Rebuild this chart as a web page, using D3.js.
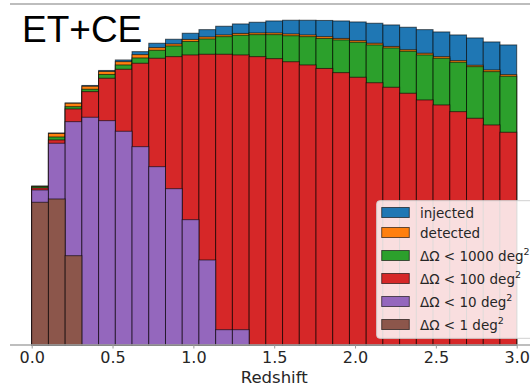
<!DOCTYPE html>
<html>
<head>
<meta charset="utf-8">
<script src="https://cdn.jsdelivr.net/npm/d3@7"></script>
<style>
	body { margin: 0; background: #fff; }
	svg { display: block; }
	.tick text { font-family: "DejaVu Sans", sans-serif; font-size: 16px; fill: #262626; }
	.tick line { stroke: #9a9a9a; }
</style>
</head>
<body>
<svg id="chart"></svg>
<script>
// bins: 29 redshift bins between 0 and 3
var zMin = 0, zMax = 3, nBins = 29;
var binEdges = d3.range(nBins + 1).map(function (i) { return zMin + i * (zMax - zMin) / nBins; });

var tickValues = [0, 0.5, 1.0, 1.5, 2.0, 2.5, 3.0];

// counts per bin (arbitrary units)
var injected = [159, 212, 242, 259.5, 274.5, 285, 293.3, 301.7, 305.7, 311.7, 315.3, 318.7, 321, 322.7, 324,
	324.7, 324.7, 324.5, 324, 323, 321.7, 320, 317.7, 315.3, 313, 310, 307, 303, 300];
var detected = [158.6, 211.5, 241.7, 258.7, 273.5, 283.3, 290.3, 297.3, 301, 305.5, 308, 310, 311.5, 312, 312,
	311, 310, 308.3, 306.5, 304.3, 301.7, 298.5, 295.2, 291.7, 288.3, 284.3, 279.7, 275, 270.3];
var lt1000 = [158.2, 208, 238.3, 255.7, 270.5, 280, 287, 294.7, 299, 303.5, 306, 308.3, 309.7, 310.3, 310.3,
	309.2, 308.3, 306.5, 305, 302.7, 300, 297, 293.7, 290, 286.7, 282.7, 278.3, 273.3, 268.7];
var lt100 = [157, 205, 236, 253.3, 266.7, 275.7, 281.7, 286.7, 288.3, 290, 290.7, 290.7, 290, 288.3, 286.3,
	283.2, 280, 276.5, 272.3, 267.7, 262.2, 257.7, 251.7, 245, 240, 233.3, 226.7, 220, 212.7];
var lt10 = [155, 201.7, 223.3, 227.7, 224.3, 213.7, 198.3, 178.3, 156.3, 125.3, 85, 15.3, 15.3, 0, 0,
	0, 0, 0, 0, 0, 0, 0, 0, 0, 0, 0, 0, 0, 0];
var lt1 = [142.7, 146, 89.3, 0, 0, 0, 0, 0, 0, 0, 0, 0, 0, 0, 0,
	0, 0, 0, 0, 0, 0, 0, 0, 0, 0, 0, 0, 0, 0];

var seriesNames = ['injected', 'detected', 'lt1000', 'lt100', 'lt10', 'lt1'];
var seriesValues = [injected, detected, lt1000, lt100, lt10, lt1];
var seriesColors = ['#1f77b4', '#ff7f0e', '#2ca02c', '#d62728', '#9467bd', '#8c564b'];
// legend labels: [main text, superscript]
var seriesLabels = [
	['injected', ''],
	['detected', ''],
	['\u0394\u03A9 < 1000 deg', '2'],
	['\u0394\u03A9 < 100 deg', '2'],
	['\u0394\u03A9 < 10 deg', '2'],
	['\u0394\u03A9 < 1 deg', '2']
];

var w = 530,
	h = 386,
	baseY = 345,
	topY = 4,
	svg, x, y, bars, legend;

svg = d3.select('#chart')
	.attr('width', w)
	.attr('height', h);

x = d3.scaleLinear()
	.domain([zMin, zMax])
	.range([31.7, 516.7]);

y = d3.scaleLinear()
	.domain([0, d3.max(injected) * 1.05])
	.range([baseY, topY]);

// overlaid histograms, widest population first
bars = svg.append('g').attr('class', 'bars');

seriesValues.forEach(function (vals, s) {
	bars.append('g')
		.attr('class', seriesNames[s])
		.selectAll('rect')
		.data(vals.map(function (v, i) { return { v: v, x0: binEdges[i], x1: binEdges[i + 1] }; })
			.filter(function (d) { return d.v > 0; }))
		.enter()
		.append('rect')
		.attr('x', function (d) { return x(d.x0); })
		.attr('y', function (d) { return y(d.v); })
		.attr('width', function (d) { return x(d.x1) - x(d.x0); })
		.attr('height', function (d) { return y(0) - y(d.v); })
		.attr('fill', seriesColors[s])
		.attr('stroke', '#000')
		.attr('stroke-opacity', 0.6)
		.attr('stroke-width', 1);
});

// frame lines (top and bottom spines)
svg.append('line')
	.attr('x1', 10).attr('x2', w)
	.attr('y1', topY).attr('y2', topY)
	.attr('stroke', '#bdbdbd')
	.attr('stroke-width', 2);

svg.append('line')
	.attr('x1', 10).attr('x2', w)
	.attr('y1', baseY).attr('y2', baseY)
	.attr('stroke', '#a8a8a8')
	.attr('stroke-width', 1.5);

svg.append('g')
	.attr('transform', 'translate(0,' + baseY + ')')
	.call(d3.axisBottom(x)
		.tickValues(tickValues)
		.tickFormat(d3.format('.1f'))
		.tickSize(3.5)
		.tickPadding(3.5))
	.call(function (g) { g.select('.domain').remove(); });

svg.append('text')
	.attr('x', x(1.5))
	.attr('y', 382.5)
	.attr('text-anchor', 'middle')
	.attr('font-family', 'DejaVu Sans, sans-serif')
	.attr('font-size', 16.5)
	.attr('fill', '#262626')
	.text('Redshift');

svg.append('text')
	.attr('x', 22)
	.attr('y', 41.7)
	.attr('font-family', 'Liberation Sans, Arial, sans-serif')
	.attr('font-size', 37)
	.attr('fill', '#000')
	.text('ET+CE');

// legend
legend = svg.append('g').attr('class', 'legend');

legend.append('rect')
	.attr('x', 376.7)
	.attr('y', 200.7)
	.attr('width', 170)
	.attr('height', 137.6)
	.attr('rx', 3)
	.attr('fill', '#fff')
	.attr('fill-opacity', 0.85)
	.attr('stroke', '#d0d0d0')
	.attr('stroke-width', 1);

var rowY = 212.5;
seriesLabels.forEach(function (lab, i) {
	if (i > 0) {
		rowY += lab[1] ? 23 : 20;
	}
	var row = legend.append('g').attr('transform', 'translate(0,' + rowY + ')');

	row.append('rect')
		.attr('x', 381.7)
		.attr('y', -5)
		.attr('width', 27.6)
		.attr('height', 10)
		.attr('fill', seriesColors[i])
		.attr('stroke', '#000')
		.attr('stroke-opacity', 0.6)
		.attr('stroke-width', 1);

	var t = row.append('text')
		.attr('x', 420)
		.attr('y', 5)
		.attr('font-family', 'DejaVu Sans, sans-serif')
		.attr('font-size', 13.5)
		.attr('fill', '#262626');

	t.append('tspan').text(lab[0]);
	if (lab[1]) {
		t.append('tspan')
			.attr('dy', -6)
			.attr('font-size', 9.5)
			.text(lab[1]);
	}
});
</script>
</body>
</html>
